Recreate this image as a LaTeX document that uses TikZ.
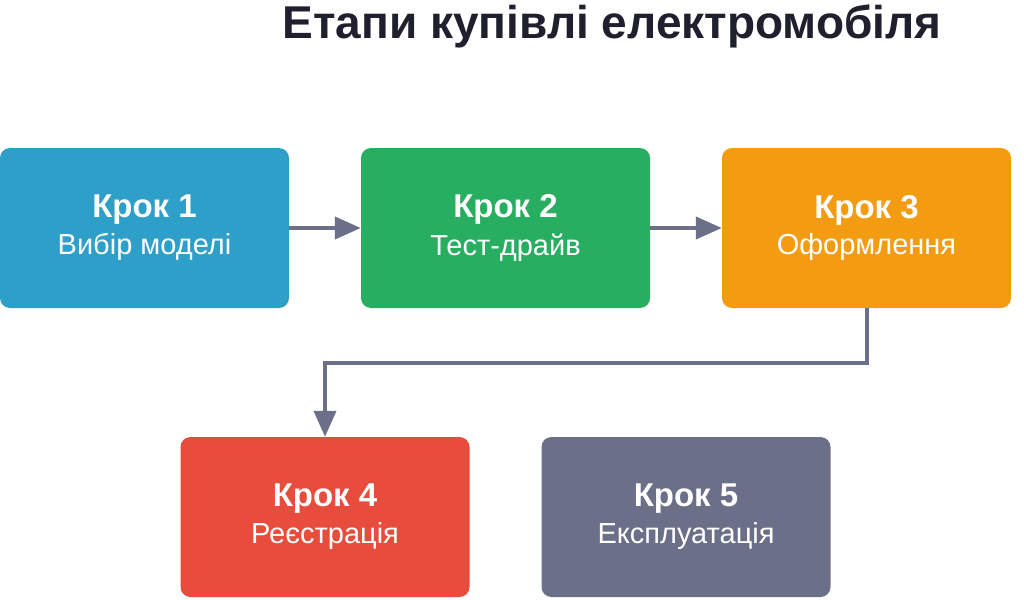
\documentclass[tikz,border=0pt]{standalone}
\usepackage{fontspec}
\setmainfont{Liberation Sans}
\usetikzlibrary{arrows.meta,positioning}

\definecolor{stepblue}{HTML}{2E9FC9}
\definecolor{stepgreen}{HTML}{27AE60}
\definecolor{steporange}{HTML}{F39C12}
\definecolor{stepred}{HTML}{E74C3C}
\definecolor{stepgray}{HTML}{6B6F88}
\definecolor{titledark}{HTML}{1F1F2E}

\tikzset{
  stepbox/.style={rectangle, rounded corners=10pt, minimum width=289pt,
                  minimum height=160pt, text=white, align=center, inner sep=0pt},
  flow/.style={-{Triangle[length=26pt,width=22pt]}, line width=4pt, draw=stepgray}
}

\begin{document}
\begin{tikzpicture}[x=1pt,y=-1pt]
  \useasboundingbox (0,0) rectangle (1024,599);
  \node[text=titledark, font=\fontsize{46}{50}\selectfont\bfseries] (title) at (612,26)
       {Етапи купівлі електромобіля};

  \node[stepbox, fill=stepblue]   (S1) at (144.5,228)
       {{\fontsize{33}{40}\selectfont\bfseries Крок 1}\\[8pt]{\fontsize{29}{34}\selectfont Вибір моделі}};
  \node[stepbox, fill=stepgreen]  (S2) at (505.5,228)
       {{\fontsize{33}{40}\selectfont\bfseries Крок 2}\\[8pt]{\fontsize{29}{34}\selectfont Тест-драйв}};
  \node[stepbox, fill=steporange] (S3) at (866.5,228)
       {{\fontsize{33}{40}\selectfont\bfseries Крок 3}\\[8pt]{\fontsize{29}{34}\selectfont Оформлення}};
  \node[stepbox, fill=stepred]    (S4) at (325,517)
       {{\fontsize{33}{40}\selectfont\bfseries Крок 4}\\[8pt]{\fontsize{29}{34}\selectfont Реєстрація}};
  \node[stepbox, fill=stepgray]   (S5) at (686,517)
       {{\fontsize{33}{40}\selectfont\bfseries Крок 5}\\[8pt]{\fontsize{29}{34}\selectfont Експлуатація}};

  \draw[flow] (S1) -- (S2);
  \draw[flow] (S2) -- (S3);
  \draw[flow] (S3.south) |- (325,363) -- (S4.north);
\end{tikzpicture}
\end{document}
